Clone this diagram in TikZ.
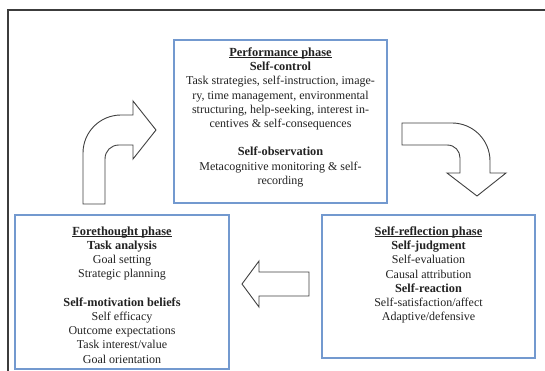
\documentclass[tikz,border=0pt]{standalone}
\usepackage{fontspec}
\setmainfont{Liberation Serif}
\definecolor{boxblue}{HTML}{7399CF}
\definecolor{framegray}{HTML}{3C3C3C}
\definecolor{arrowgray}{HTML}{404040}
\definecolor{textgray}{HTML}{222222}
\newcommand\phasetitle[1]{{\fontsize{12.4}{14.2}\selectfont\bfseries\setbox0\hbox{#1}\rlap{\rule[-1.6pt]{\wd0}{0.6pt}}\box0}}
\newcommand\headline[1]{{\fontsize{12.3}{14.2}\selectfont\bfseries #1}}
\begin{document}
\begin{tikzpicture}[x=1pt,y=-1pt,
  phasebox/.style={draw=boxblue, line width=1.4pt, fill=white, inner sep=0pt, outer sep=0pt, anchor=north west},
  body/.style={align=center, text=textgray, font=\fontsize{12}{14.2}\selectfont, inner sep=0pt, anchor=north},
  blockarrow/.style={draw=arrowgray, line width=0.9pt, fill=white, line join=miter},
  frameline/.style={draw=framegray, line width=1.1pt}]
\useasboundingbox (0,0) rectangle (545,371);
\draw[frameline] (8,371) -- (8,10) -- (545,10);

% boxes
\node[phasebox, minimum width=213pt, minimum height=163pt] (perfbox) at (174,40) {};
\node[phasebox, minimum width=214pt, minimum height=154pt] (forebox) at (15,215) {};
\node[phasebox, minimum width=213pt, minimum height=143pt] (reflbox) at (322,215) {};

% texts
\node[body] (perftext) at (280.5,47.5) {\phasetitle{Performance phase}\\
  \headline{Self-control}\\
  Task strategies, self-instruction, image-\\
  ry, time management, environmental\\
  structuring, help-seeking, interest in-\\
  centives \& self-consequences\\[14.2pt]
  \headline{Self-observation}\\
  Metacognitive monitoring \& self-\\
  recording};

\node[body] (foretext) at (122,226.5) {\phasetitle{Forethought phase}\\
  \headline{Task analysis}\\
  Goal setting\\
  Strategic planning\\[14.2pt]
  \headline{Self-motivation beliefs}\\
  Self efficacy\\
  Outcome expectations\\
  Task interest/value\\
  Goal orientation};

\node[body] (refltext) at (428.5,226.5) {\phasetitle{Self-reflection phase}\\
  \headline{Self-judgment}\\
  Self-evaluation\\
  Causal attribution\\
  \headline{Self-reaction}\\
  Self-satisfaction/affect\\
  Adaptive/defensive};

% block arrows
\draw[blockarrow] (83,204) -- (83,153) .. controls (83,132) and (100,115) .. (121,115)
  -- (133,115) -- (133,101) -- (156,130) -- (133,159) -- (133,145) -- (119,145)
  .. controls (111,145) and (105,151) .. (105,159) -- (105,204) -- cycle;

\draw[blockarrow] (402,123) -- (452,123) .. controls (473,123) and (490,140) .. (490,161)
  -- (490,173) -- (506,173) -- (477,196) -- (447,173) -- (460,173) -- (460,158)
  .. controls (460,151) and (455,145) .. (447,145) -- (402,145) -- cycle;

\draw[blockarrow] (309,272) -- (259,272) -- (259,261) -- (242,284) -- (259,307)
  -- (259,296) -- (309,296) -- cycle;
\end{tikzpicture}
\end{document}
